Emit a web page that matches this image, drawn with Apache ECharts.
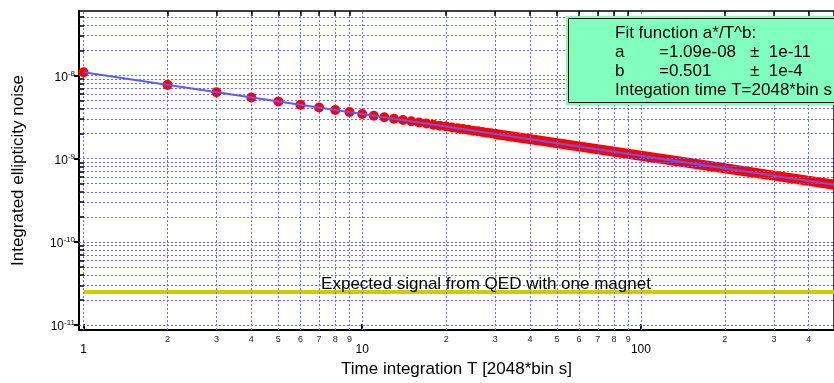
<!DOCTYPE html>
<html>
<head>
<meta charset="utf-8">
<script src="https://cdn.jsdelivr.net/npm/echarts@6/dist/echarts.min.js"></script>
<style>
  html, body { margin: 0; padding: 0; background: #fff; }
  #chart { width: 834px; height: 383px; }
</style>
</head>
<body>
<div id="chart"></div>
<script>
const pointT = [1, 2, 3, 4, 5, 6, 7, 8, 9, 10, 11, 12, 13, 14, 15, 16, 17, 18, 19, 20,
  21, 22, 23, 24, 25, 26, 27, 28, 29, 30]
const pointNoise = [1.09e-8, 7.70e-9, 6.29e-9, 5.44e-9, 4.87e-9, 4.44e-9, 4.11e-9, 3.85e-9, 3.63e-9, 3.44e-9,
  3.28e-9, 3.14e-9, 3.02e-9, 2.91e-9, 2.81e-9, 2.72e-9, 2.64e-9, 2.56e-9, 2.49e-9, 2.43e-9,
  2.37e-9, 2.32e-9, 2.27e-9, 2.22e-9, 2.17e-9, 2.13e-9, 2.09e-9, 2.05e-9, 2.02e-9, 1.98e-9]
// dense part: points overlap into a band
const bandT = [30, 50, 100, 200, 300, 500]
const bandNoise = [1.98e-9, 1.535e-9, 1.085e-9, 7.67e-10, 6.26e-10, 4.84e-10]
// fit a*/T^b endpoints
const fitT = [1, 500]
const fitNoise = [1.09e-8, 4.84e-10]
// expected QED signal
const qedT = [1, 500]
const qedLevel = [2.5e-11, 2.5e-11]

const xMin = 0.963, xMax = 493
const yMin = 8.72e-12, yMax = 5.94e-8
const xGrid = [1, 2, 3, 4, 5, 6, 7, 8, 9, 10, 20, 30, 40, 50, 60, 70, 80, 90, 100, 200, 300, 400]
const yGrid = []
for (let e = -11; e <= -8; e++) {
  for (let m = 1; m <= 9; m++) yGrid.push(m * Math.pow(10, e))
}

const gridColor = '#6464ff'
const font = 'Liberation Sans'
const boxFont = '17px "Liberation Sans"'

function pairs(xs, ys) {
  return xs.map((x, i) => [x, ys[i]])
}

function isDecade(v) {
  const l = Math.log10(v)
  return Math.abs(l - Math.round(l)) < 1e-6
}

function leadDigit(v) {
  return String(Math.round(v / Math.pow(10, Math.floor(Math.log10(v) + 1e-9))))
}

// dotted grid lines, every 1..9 x decade
const gridLines = []
xGrid.forEach(v => {
  const minor = !isDecade(v)
  gridLines.push([
    {
      coord: [v, yMin],
      label: minor
        ? { show: true, position: 'start', distance: 5, formatter: leadDigit(v), fontSize: 9, color: '#222', fontFamily: font }
        : { show: false }
    },
    { coord: [v, yMax] }
  ])
})
yGrid.forEach(v => {
  if (v < yMin || v > yMax) return
  gridLines.push([{ coord: [xMin, v], label: { show: false } }, { coord: [xMax, v] }])
})

// short inner minor ticks on left and top frame
const xTick = Math.pow(10, 5 / 278.7)
const yTick = Math.pow(10, 5 / 84)
const minorTicks = []
yGrid.forEach(v => {
  if (v < yMin || v > yMax || isDecade(v)) return
  minorTicks.push([{ coord: [xMin, v] }, { coord: [xMin * xTick, v] }])
})
xGrid.forEach(v => {
  if (isDecade(v)) return
  minorTicks.push([{ coord: [v, yMax] }, { coord: [v, yMax / yTick] }])
})

function boxText(x, y, text) {
  return { type: 'text', x: x, y: y, z: 102, style: { text: text, font: boxFont, fill: '#000', verticalAlign: 'middle' } }
}

const chart = echarts.init(document.getElementById('chart'))
chart.setOption({
  animation: false,
  textStyle: { fontFamily: font },
  grid: {
    left: 79, right: 0, top: 11, bottom: 50,
    show: true, borderColor: '#000', borderWidth: 1.5
  },
  xAxis: {
    type: 'log',
    min: xMin,
    max: xMax,
    name: 'Time integration T [2048*bin s]',
    nameLocation: 'middle',
    nameGap: 30,
    nameTextStyle: { fontSize: 17, color: '#000' },
    axisLine: { show: true, lineStyle: { color: '#000', width: 2 } },
    axisTick: { show: true, inside: true, length: 6, lineStyle: { color: '#000', width: 2 } },
    axisLabel: {
      margin: 14, fontSize: 12, color: '#000',
      showMinLabel: false, showMaxLabel: false,
      formatter: v => (isDecade(v) ? String(Math.round(v)) : '')
    },
    splitLine: { show: false }
  },
  yAxis: {
    type: 'log',
    min: yMin,
    max: yMax,
    name: 'Integrated ellipticity noise',
    nameLocation: 'middle',
    nameGap: 52,
    nameTextStyle: { fontSize: 17, color: '#000' },
    axisLine: { show: true, lineStyle: { color: '#000', width: 2 } },
    axisTick: { show: true, length: 5, lineStyle: { color: '#000', width: 2 } },
    axisLabel: {
      margin: 4, color: '#000',
      showMinLabel: false, showMaxLabel: false,
      formatter: v => (isDecade(v) ? '{b|10}{s|' + Math.round(Math.log10(v)) + '}' : ''),
      rich: {
        b: { fontSize: 12, color: '#000', fontFamily: font, padding: [4, 0, 0, 0] },
        s: { fontSize: 8, color: '#000', fontFamily: font, padding: [0, 0, 4, 0] }
      }
    },
    splitLine: { show: false }
  },
  graphic: [
    { type: 'rect', shape: { x: 566, y: 16, width: 300, height: 89 }, style: { fill: '#80ffbf' }, z: 100 },
    { type: 'rect', shape: { x: 568.5, y: 18.5, width: 300, height: 84 }, style: { fill: 'none', stroke: '#000', lineWidth: 1 }, z: 101 },
    boxText(615, 33, 'Fit function a*/T^b:'),
    boxText(615, 52, 'a'),
    boxText(659, 52, '=1.09e-08'),
    boxText(750, 52, '±  1e-11'),
    boxText(615, 71, 'b'),
    boxText(659, 71, '=0.501'),
    boxText(750, 71, '±  1e-4'),
    boxText(615, 90, 'Integation time T=2048*bin s'),
    {
      type: 'text', x: 486, y: 284, z: 50,
      style: { text: 'Expected signal from QED with one magnet', font: boxFont, fill: '#000', align: 'center', verticalAlign: 'middle' }
    }
  ],
  series: [
    {
      type: 'line',
      data: [],
      silent: true,
      z: 1,
      markLine: {
        silent: true,
        symbol: 'none',
        lineStyle: { color: gridColor, type: [2, 2], width: 1 },
        emphasis: { disabled: true },
        data: gridLines
      }
    },
    {
      type: 'line',
      data: [],
      silent: true,
      z: 2,
      markLine: {
        silent: true,
        symbol: 'none',
        lineStyle: { color: '#000', type: 'solid', width: 1.5 },
        label: { show: false },
        emphasis: { disabled: true },
        data: minorTicks
      }
    },
    {
      type: 'line',
      data: pairs(qedT, qedLevel),
      showSymbol: false,
      lineStyle: { color: '#cccc00', width: 4 },
      z: 3
    },
    {
      type: 'line',
      data: pairs(bandT, bandNoise),
      showSymbol: false,
      lineStyle: { color: '#ff0000', width: 10 },
      z: 4
    },
    {
      type: 'scatter',
      data: pairs(pointT, pointNoise),
      symbolSize: 10,
      itemStyle: { color: '#ff0000', opacity: 1 },
      z: 5
    },
    {
      type: 'line',
      data: pairs(fitT, fitNoise),
      showSymbol: false,
      lineStyle: { color: '#5b5bff', width: 2 },
      z: 6
    }
  ]
})
</script>
</body>
</html>
